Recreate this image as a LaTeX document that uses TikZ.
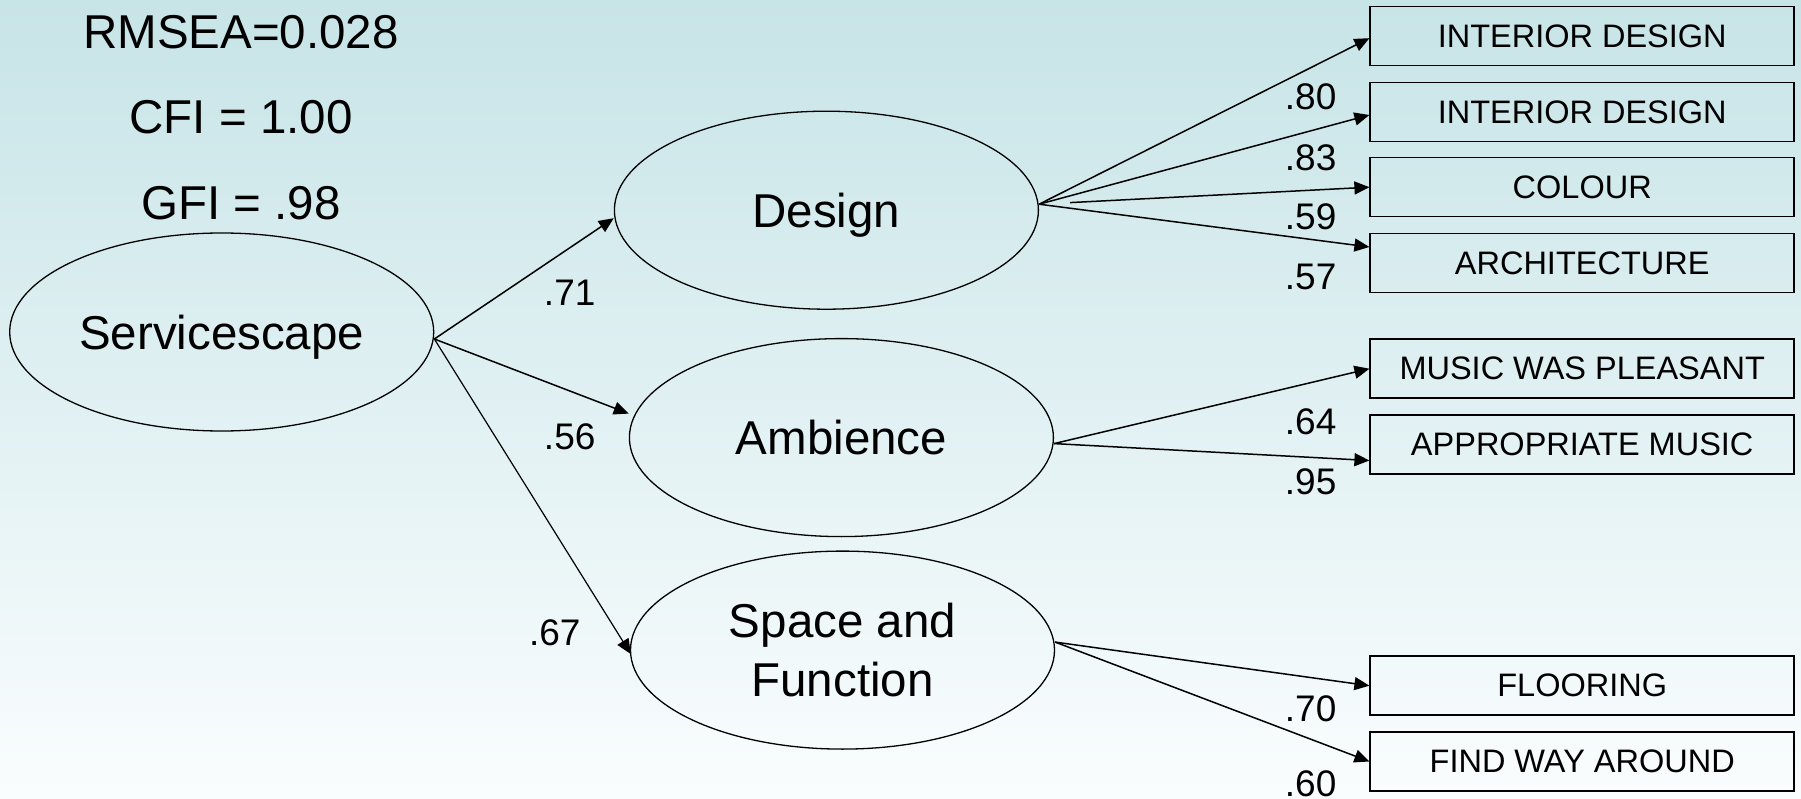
\documentclass[tikz,border=0pt]{standalone}
\usepackage{fontspec}
\setmainfont{Liberation Sans}
\usetikzlibrary{shapes.geometric,arrows.meta,calc}
\definecolor{bgtop}{RGB}{199,228,231}
\definecolor{bgbot}{RGB}{250,253,254}
\tikzset{
  latent/.style={ellipse,draw,line width=1.3pt,minimum width=424pt,minimum height=198pt,
    inner sep=0pt,font=\fontsize{47.5}{58.3}\selectfont,align=center},
  indicator/.style={rectangle,draw,line width=1.6pt,minimum width=424pt,minimum height=59pt,
    inner sep=0pt,font=\fontsize{32.5}{38}\selectfont},
  fitidx/.style={font=\fontsize{47.5}{56}\selectfont,inner sep=0pt},
  load/.style={font=\fontsize{37}{44}\selectfont,inner sep=0pt},
  arr/.style={line width=1.5pt,-{Triangle[length=15pt,width=13pt]}},
}
\begin{document}
\begin{tikzpicture}[x=1pt,y=-1pt]
\useasboundingbox (0,0) rectangle (1801,799);
\shade[top color=bgtop,bottom color=bgbot] (0,0) rectangle (1801,799);

% fit indices
\node[fitidx] (rmsea) at (241,32) {RMSEA=0.028};
\node[fitidx] (cfi) at (241,117) {CFI = 1.00};
\node[fitidx] (gfi) at (241,203) {GFI = .98};

% latent factors
\node[latent,text depth=0pt] (S) at (221.7,332) {Servicescape};
\node[latent,text depth=0pt] (D) at (826.4,210.2) {Design};
\node[latent] (A) at (841.4,437.6) {Ambience};
\node[latent] (F) at (842.5,650.1) {Space and\\Function};

% observed indicators
\node[indicator] (i1) at (1582.2,36.2) {INTERIOR DESIGN};
\node[indicator] (i2) at (1582.2,112.0) {INTERIOR DESIGN};
\node[indicator] (i3) at (1582.2,187.2) {COLOUR};
\node[indicator] (i4) at (1582.2,263.0) {ARCHITECTURE};
\node[indicator] (m1) at (1582.2,368.7) {MUSIC WAS PLEASANT};
\node[indicator] (m2) at (1582.2,444.5) {APPROPRIATE MUSIC};
\node[indicator] (f1) at (1582.2,685.7) {FLOORING};
\node[indicator] (f2) at (1582.2,761.5) {FIND WAY AROUND};

% path start points on the factors
\coordinate (sS) at ($(S.east)+(0,7)$);
\coordinate (sD) at ($(D.east)+(0,-6)$);
\coordinate (sA) at ($(A.east)+(0,6)$);
\coordinate (sF) at ($(F.east)+(0,-8)$);

% structural paths
\draw[arr] (sS) -- ($(D.west)+(0,8)$);
\draw[arr] (sS) -- ($(A.west)+(0,-24)$);
\draw[arr,line width=1.2pt] (sS) -- ($(F.west)+(1,4)$);

% measurement paths
\draw[arr] (sD) -- ($(i1.west)+(0,2)$);
\draw[arr] (sD) -- ($(i2.west)+(0,3)$);
\draw[arr,shorten <=31pt] (sD) -- (i3.west);
\draw[arr] (sD) -- ($(i4.west)+(0,-16)$);
\draw[arr] (sA) -- (m1.west);
\draw[arr] (sA) -- ($(m2.west)+(0,16)$);
\draw[arr] (sF) -- (f1.west);
\draw[arr] (sF) -- (f2.west);

% loadings
\node[load] (l71) at (569.7,292.9) {.71};
\node[load] (l56) at (569.7,436.5) {.56};
\node[load] (l67) at (554.8,632.9) {.67};
\node[load] (l80) at (1310.6,96.5) {.80};
\node[load] (l83) at (1310.6,157.4) {.83};
\node[load] (l59) at (1310.6,217.1) {.59};
\node[load] (l57) at (1310.6,276.8) {.57};
\node[load] (l64) at (1310.6,421.5) {.64};
\node[load] (l95) at (1310.6,481.3) {.95};
\node[load] (l70) at (1310.6,708.7) {.70};
\node[load] (l60) at (1310.6,783.3) {.60};
\end{tikzpicture}
\end{document}
